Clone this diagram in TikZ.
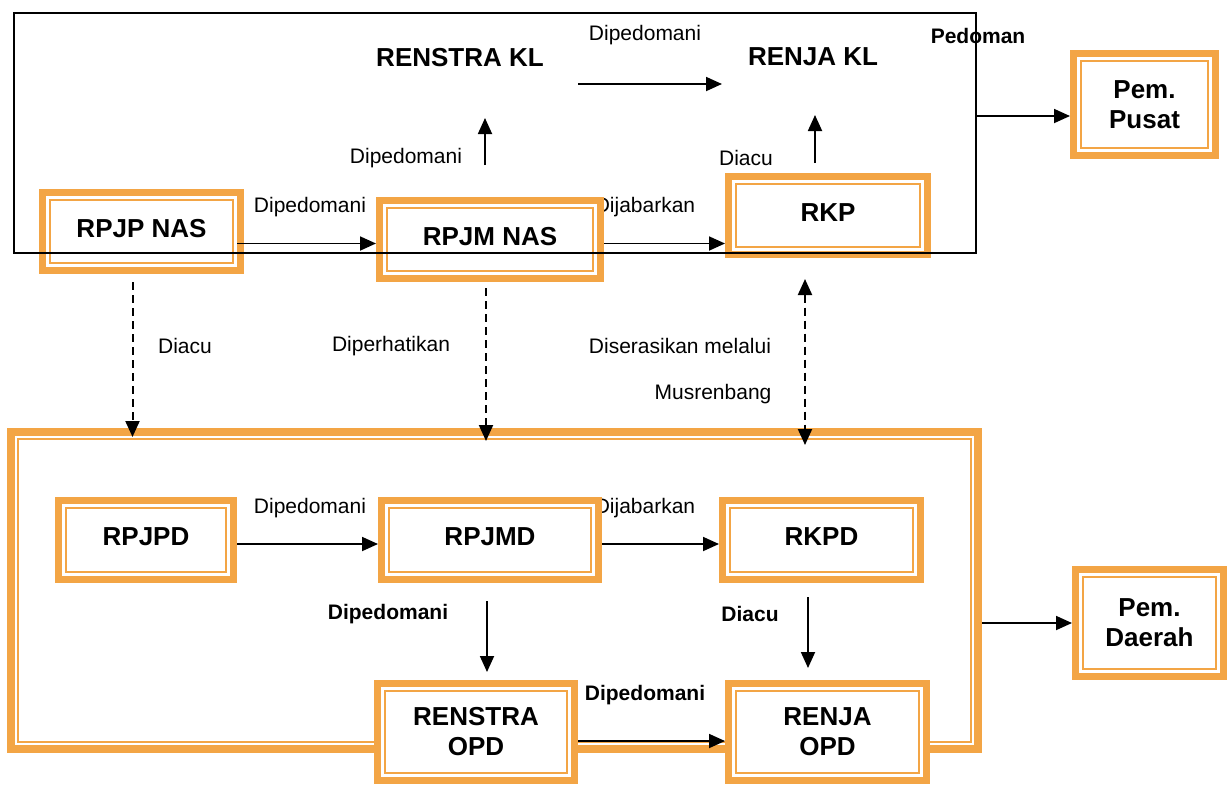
\documentclass[tikz,border=0pt]{standalone}
\usepackage{fontspec}
\setmainfont{Liberation Sans}
\usepackage{xcolor}
\usepackage{tikz}
\usetikzlibrary{arrows.meta, calc}
\definecolor{planOrange}{HTML}{F3A545}
\definecolor{frameBlack}{HTML}{000000}

\begin{document}
\begin{tikzpicture}[
  x=1pt, y=-1pt,
  planbox/.style={rectangle, draw=planOrange, line width=7pt, fill=white, inner sep=0pt, align=center,
    font=\fontsize{26}{30}\selectfont\bfseries,
    path picture={\draw[planOrange, line width=1.8pt]
      ([shift={(7.5pt,7.5pt)}]path picture bounding box.south west) rectangle
      ([shift={(-7.5pt,-7.5pt)}]path picture bounding box.north east);}},
  linebox/.style={planbox, text depth=6pt},
  regionbox/.style={rectangle, draw=planOrange, line width=8pt, inner sep=0pt,
    path picture={\draw[planOrange, line width=2pt]
      ([shift={(7pt,7pt)}]path picture bounding box.south west) rectangle
      ([shift={(-7pt,-7pt)}]path picture bounding box.north east);}},
  title/.style={font=\fontsize{26}{30}\selectfont\bfseries},
  lbl/.style={font=\fontsize{21}{25}\selectfont},
  blbl/.style={font=\fontsize{21}{25}\selectfont\bfseries},
  arrow/.style={-{Triangle[length=16pt,width=14pt]}, line width=1.8pt},
  dasharrow/.style={arrow, line width=2pt, dash pattern=on 8pt off 5pt},
  dashboth/.style={dasharrow, {Triangle[length=16pt,width=14pt]}-{Triangle[length=16pt,width=14pt]}}
]
  \fill[white] (0,0) rectangle (1229,785);
  \useasboundingbox (0,0) rectangle (1229,785);

  % Labels
  \node (lbPusatA) [lbl] at (310,207) {Dipedomani};
  \node (lbPusatB) [lbl] at (645,207) {Dijabarkan};
  \node (lbKL) [lbl] at (645,35) {Dipedomani};
  \node (lbRenstraKL) [lbl] at (406,158) {Dipedomani};
  \node (lbRenjaKL) [lbl] at (746,158) {Diacu};
  \node (lbPedoman) [blbl] at (978,36) {Pedoman};
  \node (lbDiacu) [lbl] at (185,346) {Diacu};
  \node (lbDiperhatikan) [lbl] at (391,346) {Diperhatikan};
  \node (lbSerasi) [lbl] at (680,346) {Diserasikan melalui};
  \node (lbMusren) [lbl] at (713,394) {Musrenbang};
  \node (lbDaerahA) [lbl] at (310,508) {Dipedomani};
  \node (lbDaerahB) [lbl] at (645,508) {Dijabarkan};
  \node (lbRenstraOPD) [blbl] at (388,614) {Dipedomani};
  \node (lbRenjaOPD) [blbl] at (750,614) {Diacu};
  \node (lbOPD) [blbl] at (645,695) {Dipedomani};

  % Nodes
  \node (daerah) [regionbox, minimum width=967pt, minimum height=317pt] at (494.5,590.5) {};

  \node (renstrakl) [title] at (460,58) {RENSTRA KL};
  \node (renjakl) [title] at (813,57) {RENJA KL};

  \node (rpjp) [linebox, minimum width=198pt, minimum height=78pt] at (141.5,231.5) {RPJP NAS};
  \node (rpjm) [linebox, minimum width=221pt, minimum height=78pt] at (490,239.5) {RPJM NAS};
  \node (rkp) [linebox, minimum width=199pt, minimum height=78pt] at (828,215.5) {RKP};
  \node (pempusat) [planbox, minimum width=142pt, minimum height=102pt] at (1144.5,104.5) {Pem.\\Pusat};

  \node (rpjpd) [linebox, minimum width=175pt, minimum height=79pt] at (146,540) {RPJPD};
  \node (rpjmd) [linebox, minimum width=217pt, minimum height=79pt] at (490,540) {RPJMD};
  \node (rkpd) [linebox, minimum width=198pt, minimum height=79pt] at (821.5,540) {RKPD};
  \node (renstraopd) [planbox, minimum width=197pt, minimum height=97pt] at (476,732) {RENSTRA\\OPD};
  \node (renjaopd) [planbox, minimum width=198pt, minimum height=97pt] at (827.5,732) {RENJA\\OPD};
  \node (pemdaerah) [planbox, minimum width=148pt, minimum height=107pt] at (1149.5,623) {Pem.\\Daerah};

  \node (pusat) [rectangle, draw=frameBlack, line width=1.6pt, inner sep=0pt, outer sep=0pt,
    minimum width=962pt, minimum height=240pt] at (495,133) {};
  \coordinate (pusatout) at (976,116);

  % Connectors
  \draw [arrow] ($(renstrakl)+(118,26)$) -- ($(renjakl)+(-91,27)$);
  \draw [arrow] ($(rpjm.north)+(-5,-32)$) -- ($(renstrakl)+(25,60)$);
  \draw [arrow] ($(rkp.north)+(-13,-10)$) -- ($(renjakl)+(2,58)$);
  \draw [arrow] ($(rpjp.east)+(-7,12)$) -- ($(rpjm.west)+(0,4)$);
  \draw [arrow] ($(rpjm.east)+(0,4)$) -- ($(rkp.west)+(0,28)$);
  \draw [arrow] (pusatout) -- (pusatout -| pempusat.west);

  \draw [dasharrow] ($(rpjp.south)+(-9,8)$) -- ($(rpjp.south |- daerah.north)+(-9,9)$);
  \draw [dasharrow] ($(rpjm.south)+(-4,6)$) -- ($(rpjm.south |- daerah.north)+(-4,13)$);
  \draw [dashboth] ($(rkp.south)+(-23,21)$) -- ($(rkp.south |- daerah.north)+(-23,17)$);

  \draw [arrow] ($(rpjpd.east)+(0,4)$) -- ($(rpjmd.west)+(0,4)$);
  \draw [arrow] ($(rpjmd.east)+(0,4)$) -- ($(rkpd.west)+(0,4)$);
  \draw [arrow] ($(rpjmd.south)+(-3,18)$) -- ($(rpjmd.south |- renstraopd.north)+(-3,-8)$);
  \draw [arrow] ($(rkpd.south)+(-13.5,14)$) -- ($(rkpd.south |- renjaopd.north)+(-13.5,-12)$);
  \draw [arrow] ($(renstraopd.east)+(0,9)$) -- ($(renjaopd.west)+(0,9)$);
  \draw [arrow] (daerah.east |- pemdaerah.west) -- (pemdaerah.west);
\end{tikzpicture}
\end{document}
